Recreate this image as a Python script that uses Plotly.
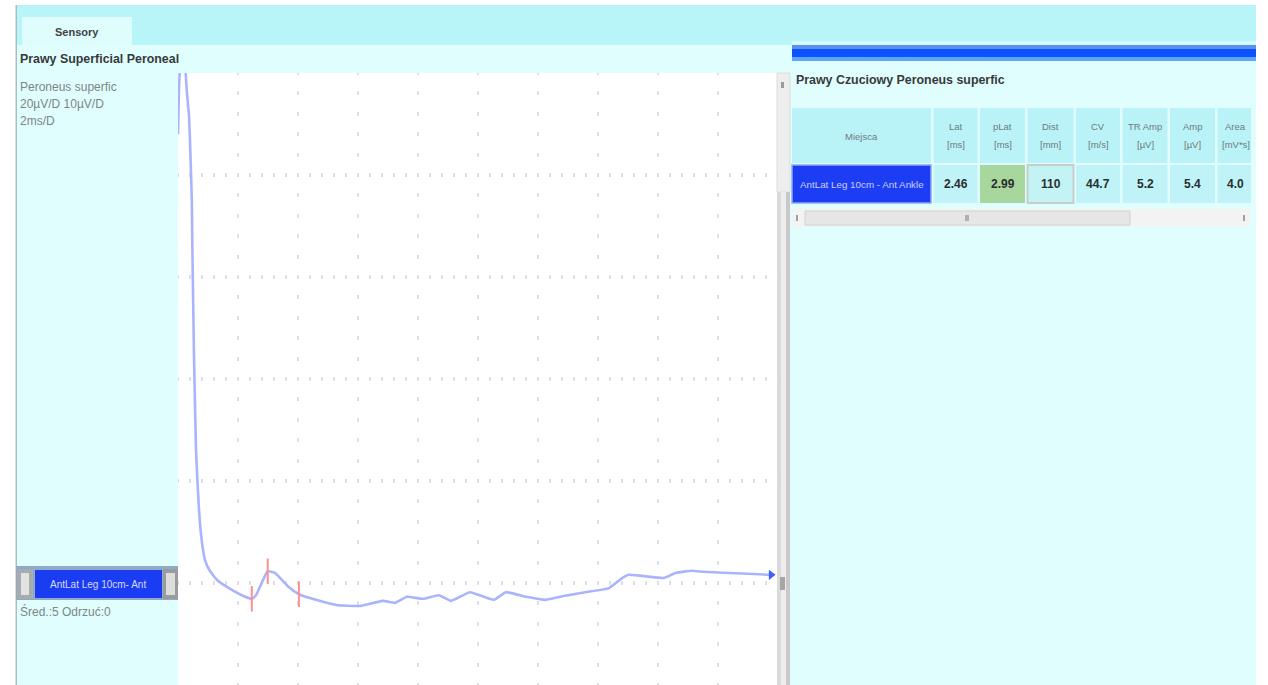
import plotly.graph_objects as go

W, H = 1268, 685

# ---- waveform (time in ms, amplitude in µV) ----
time_ms = [0.0, 0.04, 0.12, 0.22, 0.29, 0.37, 0.42, 0.46, 0.48, 0.53, 0.60, 0.70, 0.79, 0.90,
           1.05, 1.30, 1.70, 2.20, 2.46, 2.60, 2.99, 3.23, 3.69, 4.03, 4.60, 5.27, 6.07, 6.83,
           7.23, 7.63, 8.17, 8.70, 9.10, 9.73, 10.53, 10.93, 11.60, 12.25, 12.90, 13.57,
           14.37, 14.77, 15.02, 16.20, 16.60, 17.13, 17.52, 18.17, 19.00, 19.77]
amp_uv = [88.0, 98.0, 105.0, 103.0, 96.7, 91.4, 82.9, 75.1, 65.3, 45.7, 26.1, 14.3, 8.4, 4.5,
          2.5, 0.6, -1.0, -2.6, -3.1, -2.4, 2.3, 2.0, -0.8, -2.2, -3.3, -4.3, -4.5, -3.5,
          -3.9, -2.7, -3.1, -2.4, -3.5, -1.8, -3.3, -1.8, -2.7, -3.3, -2.5, -1.8,
          -1.0, 0.8, 1.6, 1.0, 2.0, 2.4, 2.2, 2.0, 1.8, 1.6]

# cursor markers: onset latency, peak latency, end of response
marker_ms = [2.46, 2.99, 4.03]
marker_uv = [-3.1, 2.3, -2.2]
marker_half = 2.5

# ---- results table ----
header_names = ["Miejsca", "Lat", "pLat", "Dist", "CV", "TR Amp", "Amp", "Area"]
header_units = ["", "[ms]", "[ms]", "[mm]", "[m/s]", "[µV]", "[µV]", "[mV*s]"]
site_names = ["AntLat Leg 10cm - Ant Ankle"]
lat_ms = [2.46]
plat_ms = [2.99]
dist_mm = [110]
cv_ms = [44.7]
tr_amp_uv = [5.2]
amp_uv_tab = [5.4]
area_nvs = [4.0]

FONT = "Liberation Sans, Arial, sans-serif"


def X(px):
    return px / W


def Y(py):
    return 1 - py / H


fig = go.Figure()

fig.add_trace(go.Scatter(x=time_ms, y=amp_uv, mode="lines",
                         line=dict(color="#aab4fc", width=2.6, shape="spline", smoothing=0.4),
                         hoverinfo="skip", showlegend=False))

mx, my = [], []
for t, v in zip(marker_ms, marker_uv):
    mx += [t, t, None]
    my += [v - marker_half, v + marker_half, None]
fig.add_trace(go.Scatter(x=mx, y=my, mode="lines", line=dict(color="#ff8f8f", width=2),
                         hoverinfo="skip", showlegend=False))

fig.add_trace(go.Scatter(x=[time_ms[-1]], y=[amp_uv[-1]], mode="markers",
                         marker=dict(symbol="triangle-right", size=9, color="#3f5cff"),
                         hoverinfo="skip", showlegend=False))

shapes = []
annotations = []


def rect(x0, y0, x1, y1, fill, line=None, lw=0, layer="below"):
    shapes.append(dict(type="rect", xref="paper", yref="paper",
                       x0=X(x0), x1=X(x1), y0=Y(y1), y1=Y(y0),
                       fillcolor=fill, line=dict(color=line or fill, width=lw),
                       layer=layer))


def text(x, y, s, size=12, color="#7c8686", bold_=False, anchor="left"):
    annotations.append(dict(x=X(x), y=Y(y), xref="paper", yref="paper", text=s,
                            showarrow=False, xanchor=anchor, yanchor="middle",
                            font=dict(family=FONT, size=size, color=color,
                                      weight="bold" if bold_ else "normal")))


# window chrome
rect(17, 5, 1256, 45, "#b8f5f8")
rect(22, 17, 132, 45, "#e0fdfd")
rect(17, 45, 792, 73, "#e0fefe")
rect(792, 41, 1256, 45, "#d2fafc")
rect(792, 45, 1256, 49, "#5b8ff0")
rect(792, 49, 1256, 57, "#0d52ff")
rect(792, 57, 1256, 61, "#5aa6f8")
rect(790, 61, 1256, 685, "#e0fefe")
rect(17, 73, 178, 685, "#e0fefe")
rect(15.5, 5, 17, 685, "#a8bfc0")

# trace selector
rect(16, 566, 178, 600, "#8fa9c9")
rect(17, 569, 33, 599, "#a9acac")
rect(21, 573, 29, 595, "#e2e4e4")
rect(35, 570, 162, 598, "#1a3cf2")
rect(163, 569, 178, 599, "#9a9c9c")
rect(166, 573, 175, 595, "#dcdede")

# vertical scrollbar beside the trace
rect(777, 73, 790, 685, "#e6e6e6")
rect(777, 73, 790, 192, "#eeeeee", line="#dcdcdc", lw=1)
rect(777, 192, 781, 685, "#dadada")
rect(781, 192, 786, 685, "#ededed")
rect(786, 192, 790, 685, "#c8c8c8")
rect(781, 82, 784, 88, "#9a9a9a")
rect(780, 577, 785, 590, "#a6a6a6")

# results table: header row and one result row
col_widths = [139, 44, 45, 46, 44, 45, 45, 46]
col_gap = 2.5
head_top, head_bot = 108, 163
row_top, row_bot = 165, 203
val_text = [site_names[0],
            format(lat_ms[0], ".2f"), format(plat_ms[0], ".2f"), format(dist_mm[0], "d"),
            format(cv_ms[0], ".1f"), format(tr_amp_uv[0], ".1f"), format(amp_uv_tab[0], ".1f"),
            format(area_nvs[0], ".1f")]
cell_fill = ["#1d3df4", "#bff3f7", "#a7d79c", "#c3f3f5", "#bff3f7", "#bff3f7", "#bff3f7", "#bff3f7"]
x0 = 792
for i, w in enumerate(col_widths):
    x1 = min(x0 + w, 1251)
    cx = (x0 + x1) / 2 if i < len(col_widths) - 1 else x0 + 18
    rect(x0, head_top, x1, head_bot, "#b9f3f8")
    if i == 0:
        rect(x0, row_top, x1, row_bot, cell_fill[i], line="#8ea6f6", lw=1.5)
        text(cx, 137, header_names[i], size=9.5, color="#6f7a7c", anchor="center")
        text(cx, 184, val_text[i], size=9.8, color="#c9d1ff", anchor="center")
    else:
        if i == 3:
            rect(x0, row_top, x1, row_bot, cell_fill[i], line="#c9cccc", lw=2)
        else:
            rect(x0, row_top, x1, row_bot, cell_fill[i])
        text(cx, 127, header_names[i], size=9.5, color="#6f7a7c", anchor="center")
        text(cx, 145, header_units[i], size=9.5, color="#6f7a7c", anchor="center")
        text(cx, 184, val_text[i], size=12, color="#2a2e30", bold_=True, anchor="center")
    x0 = x0 + w + col_gap

# horizontal scrollbar under the table
rect(792, 209, 1250, 227, "#f3f3f3")
rect(805, 211, 1130, 225, "#e6e6e6", line="#d2d2d2", lw=1)
rect(965, 215, 969, 221, "#b0b0b0")
rect(796, 215, 798, 221, "#a0a0a0")
rect(1243, 215, 1245, 221, "#a0a0a0")

# labels
text(77, 32, "Sensory", size=11, color="#3c4444", bold_=True, anchor="center")
text(18, 59, "Prawy Superficial Peroneal", size=12.4, color="#363a3a", bold_=True)
text(18, 87, "Peroneus superfic", size=12)
text(18, 104, "20µV/D 10µV/D", size=12)
text(18, 121, "2ms/D", size=12)
text(98, 584, "AntLat Leg 10cm- Ant", size=10, color="#d5dbff", anchor="center")
text(18, 611, "Śred.:5 Odrzuć:0", size=12)
text(794, 80, "Prawy Czuciowy Peroneus superfic", size=12.4, color="#363a3a", bold_=True)

fig.update_layout(
    width=W, height=H, margin=dict(l=0, r=0, t=0, b=0),
    paper_bgcolor="white", plot_bgcolor="white",
    shapes=shapes, annotations=annotations, showlegend=False,
    xaxis=dict(domain=[X(178), X(778)], range=[0, 20], tickvals=[2, 4, 6, 8, 10, 12, 14, 16, 18],
               showticklabels=False, ticks="", showgrid=True, gridcolor="#dcdee9", gridwidth=2,
               griddash="2px,16.4px,2px,0px", zeroline=False, showline=False, fixedrange=True),
    yaxis=dict(domain=[0, Y(73)], range=[-20, 100], tickvals=[0, 20, 40, 60, 80],
               showticklabels=False, ticks="", showgrid=True, gridcolor="#dcdee9", gridwidth=4,
               griddash="1px,10px,1px,0px", zeroline=False, showline=False, fixedrange=True),
)

fig.write_html("out.html", config={"displayModeBar": False})
